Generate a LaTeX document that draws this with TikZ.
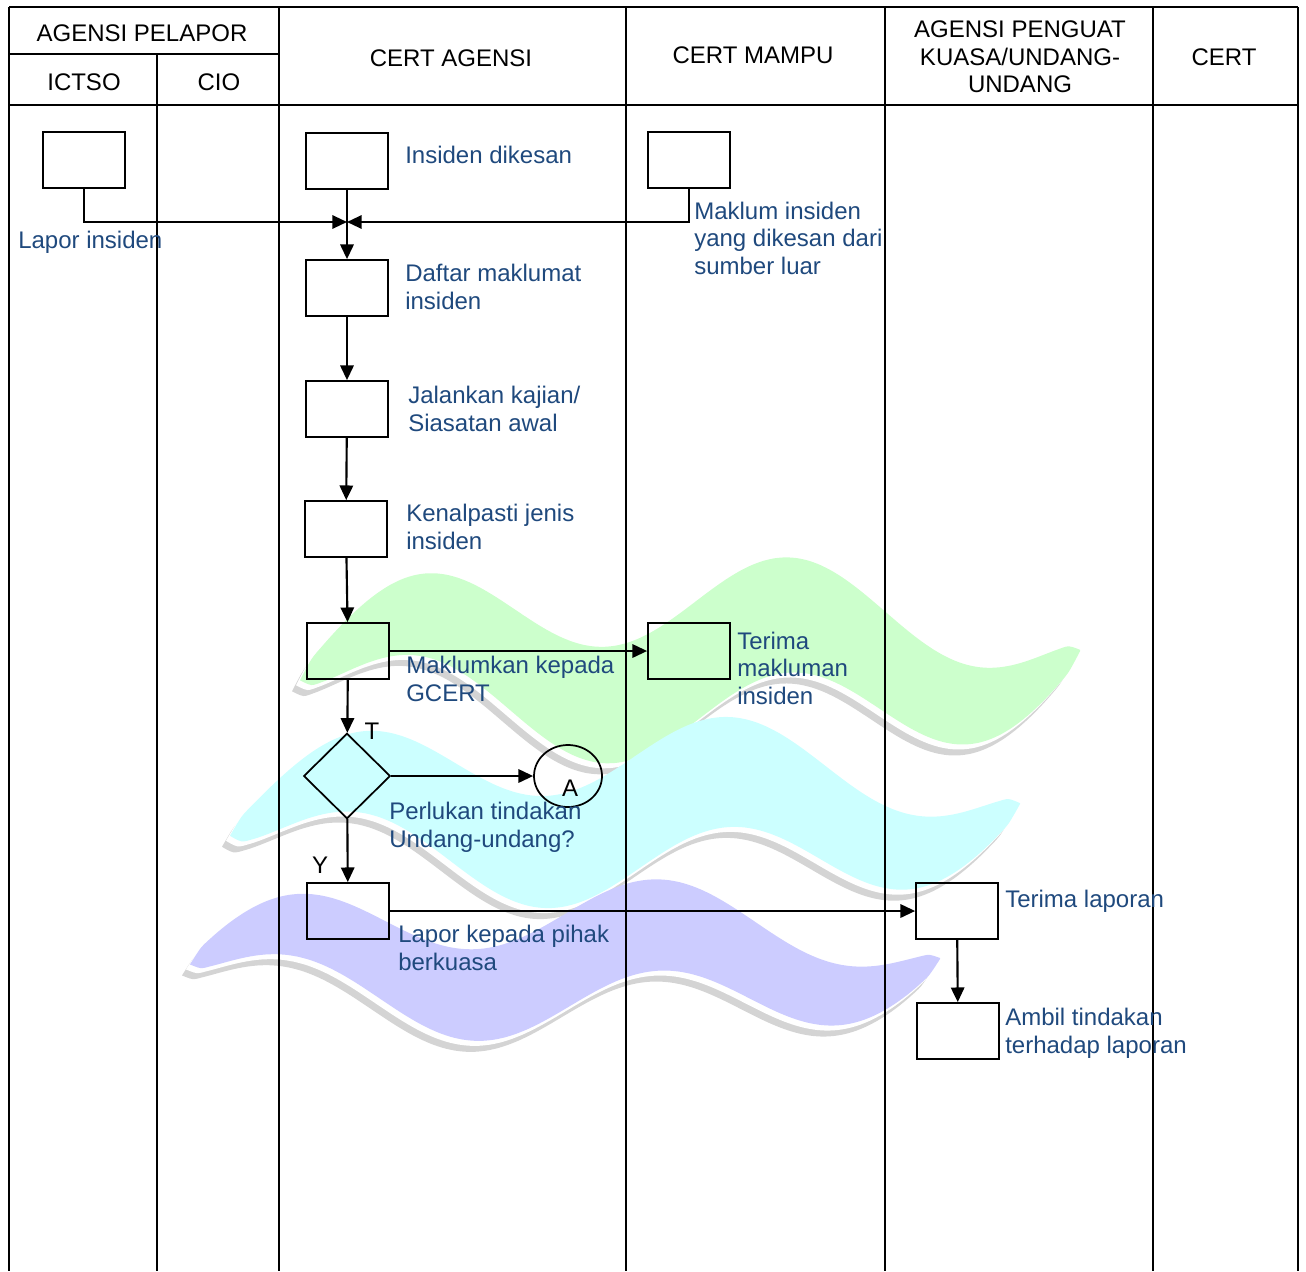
\documentclass[tikz,border=0pt]{standalone}
\usepackage{fontspec}
\setmainfont{Liberation Sans}
\usetikzlibrary{arrows.meta,shapes.geometric}

\definecolor{labelblue}{RGB}{31,73,125}
\definecolor{wmgreen}{RGB}{204,255,204}
\definecolor{wmcyan}{RGB}{204,255,255}
\definecolor{wmpurple}{RGB}{204,204,255}
\definecolor{wmgray}{RGB}{212,212,212}

% wave band of the watermark: from, to, mid y, amplitude, crest x, period, thickness
\newcommand\wmribbon[7]{%
  plot[domain=#1:#2,samples=70,smooth] (\x,{#3-#4*cos(360/#6*(\x-#5))-#7/2*sqrt(abs(sin(180/(#2-#1)*(\x-#1))))})
  -- plot[domain=#2:#1,samples=70,smooth] (\x,{#3-#4*cos(360/#6*(\x-#5))+#7/2*sqrt(abs(sin(180/(#2-#1)*(\x-#1))))})
  -- cycle}

\begin{document}
\begin{tikzpicture}[
  x=0.75pt, y=-0.75pt,
  every node/.style = {font=\fontsize{18}{20.6}\selectfont},
  stepbox/.style = {draw, line width=1.3pt, minimum width=61.5pt, minimum height=42pt, inner sep=0pt},
  decision/.style = {draw, diamond, line width=1.3pt, minimum width=65pt, minimum height=64pt, inner sep=0pt},
  connector/.style = {draw, ellipse, line width=1.3pt, minimum width=51pt, minimum height=46.5pt, inner sep=0pt},
  steplabel/.style = {anchor=base west, align=left, inner sep=0pt, text=labelblue},
  lanehead/.style = {align=center, inner sep=0pt},
  lane/.style = {line width=1.3pt},
  flow/.style = {line width=1.6pt, -{Triangle[length=11pt,width=10pt]}}
  ]
  \useasboundingbox (0,0) rectangle (1306,1271);

  % watermark
  \fill[wmgray, shift={(-8,11)}] \wmribbon{300}{1080}{660}{45}{420}{370}{120};
  \fill[white, shift={(-4,5)}] \wmribbon{300}{1080}{660}{45}{420}{370}{120};
  \fill[wmgreen] \wmribbon{300}{1080}{660}{45}{420}{370}{120};
  \fill[wmgray, shift={(-8,11)}] \wmribbon{230}{1020}{812}{40}{360}{370}{115};
  \fill[white, shift={(-4,5)}] \wmribbon{230}{1020}{812}{40}{360}{370}{115};
  \fill[wmcyan] \wmribbon{230}{1020}{812}{40}{360}{370}{115};
  \fill[wmgray, shift={(-8,11)}] \wmribbon{190}{940}{960}{35}{290}{370}{95};
  \fill[white, shift={(-4,5)}] \wmribbon{190}{940}{960}{35}{290}{370}{95};
  \fill[wmpurple] \wmribbon{190}{940}{960}{35}{290}{370}{95};

  % lanes
  \draw[line width=2.2pt] (9,7) -- (1298,7);
  \draw[lane] (9,105) -- (1298,105);
  \draw[lane] (9,54) -- (279,54);
  \draw[lane] (157,54) -- (157,1271);
  \foreach \lx in {9,279,626,885,1153,1298}
    \draw[lane] (\lx,7) -- (\lx,1271);

  \node[lanehead] (hPelapor) at (142,33) {AGENSI PELAPOR};
  \node[lanehead] (hIctso) at (84,82) {ICTSO};
  \node[lanehead] (hCio) at (219,82) {CIO};
  \node[lanehead] (hAgensi) at (451,58) {CERT AGENSI};
  \node[lanehead] (hMampu) at (753,55) {CERT MAMPU};
  \node[lanehead] (hPenguat) at (1020,57) {AGENSI PENGUAT\\KUASA/UNDANG-\\UNDANG};
  \node[lanehead] (hCert) at (1224,57) {CERT};

  % steps
  \node[stepbox] (ictso) at (84,160) {};
  \node[stepbox] (dikesan) at (347,161) {};
  \node[stepbox] (mampu) at (689,160) {};
  \node[stepbox] (daftar) at (347,288) {};
  \node[stepbox] (kajian) at (347,409) {};
  \node[stepbox] (jenis) at (346,529) {};
  \node[stepbox] (maklum) at (348,651) {};
  \node[stepbox] (terimaM) at (689,651) {};
  \node[decision] (perlu) at (347,776) {};
  \node[connector] (conA) at (568,776) {};
  \node[stepbox] (lapor) at (348,911) {};
  \node[stepbox] (terimaL) at (957,911) {};
  \node[stepbox] (ambil) at (958,1031) {};
  \coordinate (merge) at (347,222);

  % labels (base = last line)
  \node[steplabel] (lblLapor) at (18,248) {Lapor insiden};
  \node[steplabel] (lblDikesan) at (405,163) {Insiden dikesan};
  \node[steplabel] (lblMampu) at (694,274) {Maklum insiden\\yang dikesan dari\\sumber luar};
  \node[steplabel] (lblDaftar) at (405,309) {Daftar maklumat\\insiden};
  \node[steplabel] (lblKajian) at (408,431) {Jalankan kajian/\\Siasatan awal};
  \node[steplabel] (lblJenis) at (406,549) {Kenalpasti jenis\\insiden};
  \node[steplabel] (lblMaklum) at (406,701) {Maklumkan kepada\\GCERT};
  \node[steplabel] (lblTerimaM) at (737,704) {Terima\\makluman\\insiden};
  \node[steplabel] (lblPerlu) at (389,847) {Perlukan tindakan\\Undang-undang?};
  \node[steplabel] (lblLaporK) at (398,970) {Lapor kepada pihak\\berkuasa};
  \node[steplabel] (lblTerimaL) at (1005,907) {Terima laporan};
  \node[steplabel] (lblAmbil) at (1005,1053) {Ambil tindakan\\terhadap laporan};
  \node (lblT) at (372,731) {T};
  \node (lblY) at (320,865) {Y};
  \node (lblA) at (570,788) {A};

  % flows
  \draw[flow] (ictso.south) |- (merge);
  \draw[flow] (mampu.south) |- (merge);
  \draw[flow] (dikesan) -- (daftar);
  \draw[flow] (daftar) -- (kajian);
  \draw[flow] (kajian) -- (jenis);
  \draw[flow] (jenis) -- (maklum);
  \draw[flow] (maklum.east) -- (terimaM.west);
  \draw[flow] (maklum) -- (perlu);
  \draw[flow] (perlu.east) -- (conA.west);
  \draw[flow] (perlu) -- (lapor);
  \draw[flow] (lapor.east) -- (terimaL.west);
  \draw[flow] (terimaL) -- (ambil);
\end{tikzpicture}
\end{document}
